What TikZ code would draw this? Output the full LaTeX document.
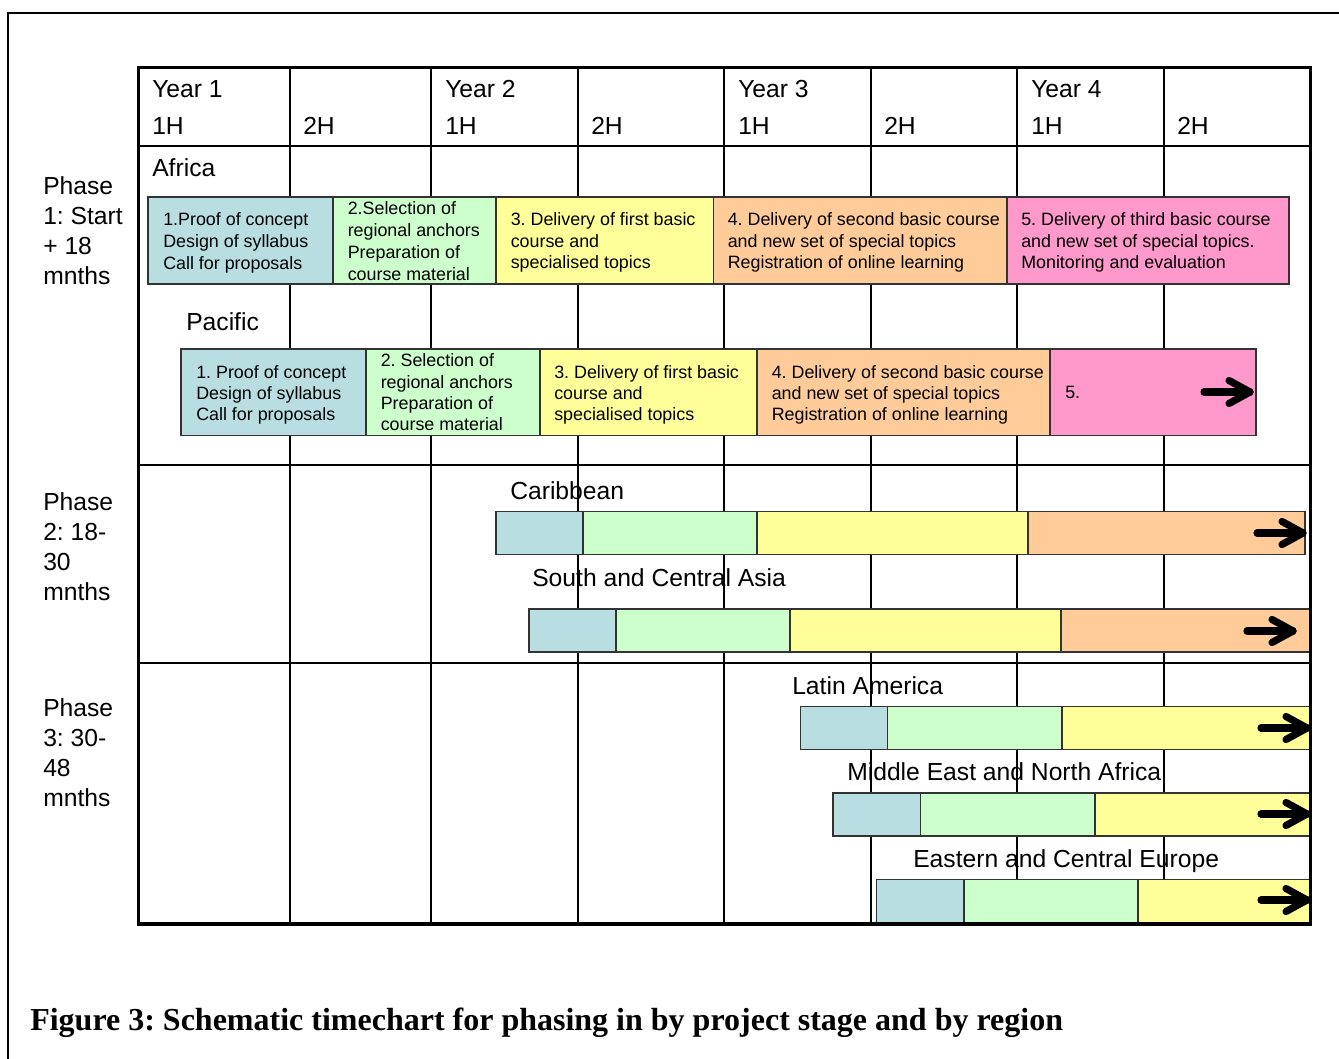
\documentclass[tikz,border=0pt]{standalone}
\usepackage{fontspec}
\setmainfont{Liberation Sans}
\newfontfamily\capfont{Liberation Serif}
\frenchspacing
\definecolor{cblue}{RGB}{184,222,226}
\definecolor{cgreen}{RGB}{204,255,204}
\definecolor{cyellow}{RGB}{255,255,153}
\definecolor{corange}{RGB}{255,204,153}
\definecolor{cpink}{RGB}{255,153,204}
\newcommand\txtlines[6]{% name, style, spacing, x, y, list
  \foreach \tl [count=\i from 0] in {#6} {
    \node[#2] (#1-\i) at (#4, #5+\i*#3) {\tl};
  }}
\newcommand\harrow[2]{% tip x, y
  \draw[arr] (#1-51,#2) -- (#1-5,#2);
  \draw[arr] (#1-26,#2-11.5) -- (#1-5,#2) -- (#1-26,#2+11.5);}
\begin{document}
\begin{tikzpicture}[x=0.75pt,y=-0.75pt,
  big/.style={font=\fontsize{18.5pt}{22pt}\selectfont, inner sep=0pt, anchor=base west},
  small/.style={font=\fontsize{13.4pt}{16pt}\selectfont, inner sep=0pt, anchor=base west},
  bar/.style={draw=black!80, line width=0.8pt},
  gridline/.style={line width=1.3pt},
  border/.style={line width=2.6pt},
  arr/.style={line width=5.4pt, line cap=round, line join=round}]
\useasboundingbox (0,0) rectangle (1339,1059);
% outer frame (cut off at right and bottom)
\draw[line width=1.3pt] (8,1062) -- (8,13) -- (1342,13);
% grid
\foreach \gx in {290,431,578,724,871,1017,1164}
  \draw[gridline] (\gx,67) -- (\gx,924);
\foreach \gy in {146,465,663}
  \draw[gridline] (138,\gy) -- (1310,\gy);
% header
\foreach \hx/\hn in {152/1,445/2,738/3,1031/4}
  \node[big] (year\hn) at (\hx,98) {Year \hn};
\foreach \hx/\hl [count=\k] in {152/1H,303/2H,445/1H,591/2H,738/1H,884/2H,1031/1H,1177/2H}
  \node[big] (half\k) at (\hx,135) {\hl};
% phase labels
\txtlines{ph1}{big}{30}{43}{195}{Phase,1: Start,+ 18,mnths}
\txtlines{ph2}{big}{30}{43}{510.5}{Phase,2: 18-,30,mnths}
\txtlines{ph3}{big}{30}{43}{716.5}{Phase,3: 30-,48,mnths}
% region labels
\node[big] (africa) at (152,177) {Africa};
\node[big] (pacific) at (186,330) {Pacific};
\node[big] (carib) at (510,499) {Caribbean};
\node[big] (sca) at (532,586) {South and Central Asia};
\node[big] (latam) at (792,694) {Latin America};
\node[big] (mena) at (847,780) {Middle East and North Africa};
\node[big] (ece) at (913,867) {Eastern and Central Europe};
% Africa bars
\draw[bar, fill=cblue]   (148,197) rectangle (333,284);
\draw[bar, fill=cgreen]  (333,197) rectangle (496,284);
\draw[bar, fill=cyellow] (496,197) rectangle (713.5,284);
\draw[bar, fill=corange] (713.5,197) rectangle (1007,284);
\draw[bar, fill=cpink]   (1007,197) rectangle (1289,284);
\txtlines{a1}{small}{22}{163}{226}{1.Proof of concept,Design of syllabus,Call for proposals}
\txtlines{a2}{small}{21.7}{347.5}{215}{2.Selection of,regional anchors,Preparation of,course material}
\txtlines{a3}{small}{21.5}{510.5}{226}{3. Delivery of first basic,course and,specialised topics}
\txtlines{a4}{small}{21.5}{727.5}{226}{4. Delivery of second basic course,and new set of special topics,Registration of online learning}
\txtlines{a5}{small}{21.5}{1021}{226}{5. Delivery of third basic course,and new set of special topics.,Monitoring and evaluation}
% Pacific bars
\draw[bar, fill=cblue]   (181,349) rectangle (366,435.5);
\draw[bar, fill=cgreen]  (366,349) rectangle (540,435.5);
\draw[bar, fill=cyellow] (540,349) rectangle (757,435.5);
\draw[bar, fill=corange] (757,349) rectangle (1050,435.5);
\draw[bar, fill=cpink]   (1050,349) rectangle (1256,435.5);
\txtlines{p1}{small}{21.3}{196}{378.3}{1. Proof of concept,Design of syllabus,Call for proposals}
\txtlines{p2}{small}{21.3}{380.5}{366.7}{2. Selection of,regional anchors,Preparation of,course material}
\txtlines{p3}{small}{21.3}{554}{378.3}{3. Delivery of first basic,course and,specialised topics}
\txtlines{p4}{small}{21.3}{771.5}{378.3}{4. Delivery of second basic course,and new set of special topics,Registration of online learning}
\node[small] (p5) at (1065,398) {5.};
\harrow{1255}{392}
% Caribbean
\draw[bar, fill=cblue]   (496,511.5) rectangle (583,554.5);
\draw[bar, fill=cgreen]  (583,511.5) rectangle (757,554.5);
\draw[bar, fill=cyellow] (757,511.5) rectangle (1028,554.5);
\draw[bar, fill=corange] (1028,511.5) rectangle (1305,554.5);
\harrow{1308}{533}
% South and Central Asia
\draw[bar, fill=cblue]   (529,609) rectangle (616,652);
\draw[bar, fill=cgreen]  (616,609) rectangle (790,652);
\draw[bar, fill=cyellow] (790,609) rectangle (1061,652);
\draw[bar, fill=corange] (1061,609) rectangle (1310,652);
\harrow{1298}{631}
% Latin America
\draw[bar, fill=cblue]   (800.5,706.5) rectangle (887.5,749.5);
\draw[bar, fill=cgreen]  (887.5,706.5) rectangle (1062,749.5);
\draw[bar, fill=cyellow] (1062,706.5) rectangle (1310,749.5);
\harrow{1312}{728}
% Middle East and North Africa
\draw[bar, fill=cblue]   (833,793) rectangle (920.5,836);
\draw[bar, fill=cgreen]  (920.5,793) rectangle (1095,836);
\draw[bar, fill=cyellow] (1095,793) rectangle (1310,836);
\harrow{1312}{814}
% Eastern and Central Europe
\draw[bar, fill=cblue]   (876.5,879.5) rectangle (964,924);
\draw[bar, fill=cgreen]  (964,879.5) rectangle (1138,924);
\draw[bar, fill=cyellow] (1138,879.5) rectangle (1310,924);
\harrow{1312}{900}
% table border
\draw[border] (138.3,67.5) rectangle (1310.5,924);
% caption
\node[anchor=base west, inner sep=0pt, font=\capfont\bfseries\fontsize{24pt}{28pt}\selectfont] (caption) at (30,1030) {Figure 3: Schematic timechart for phasing in by project stage and by region};
\end{tikzpicture}
\end{document}
